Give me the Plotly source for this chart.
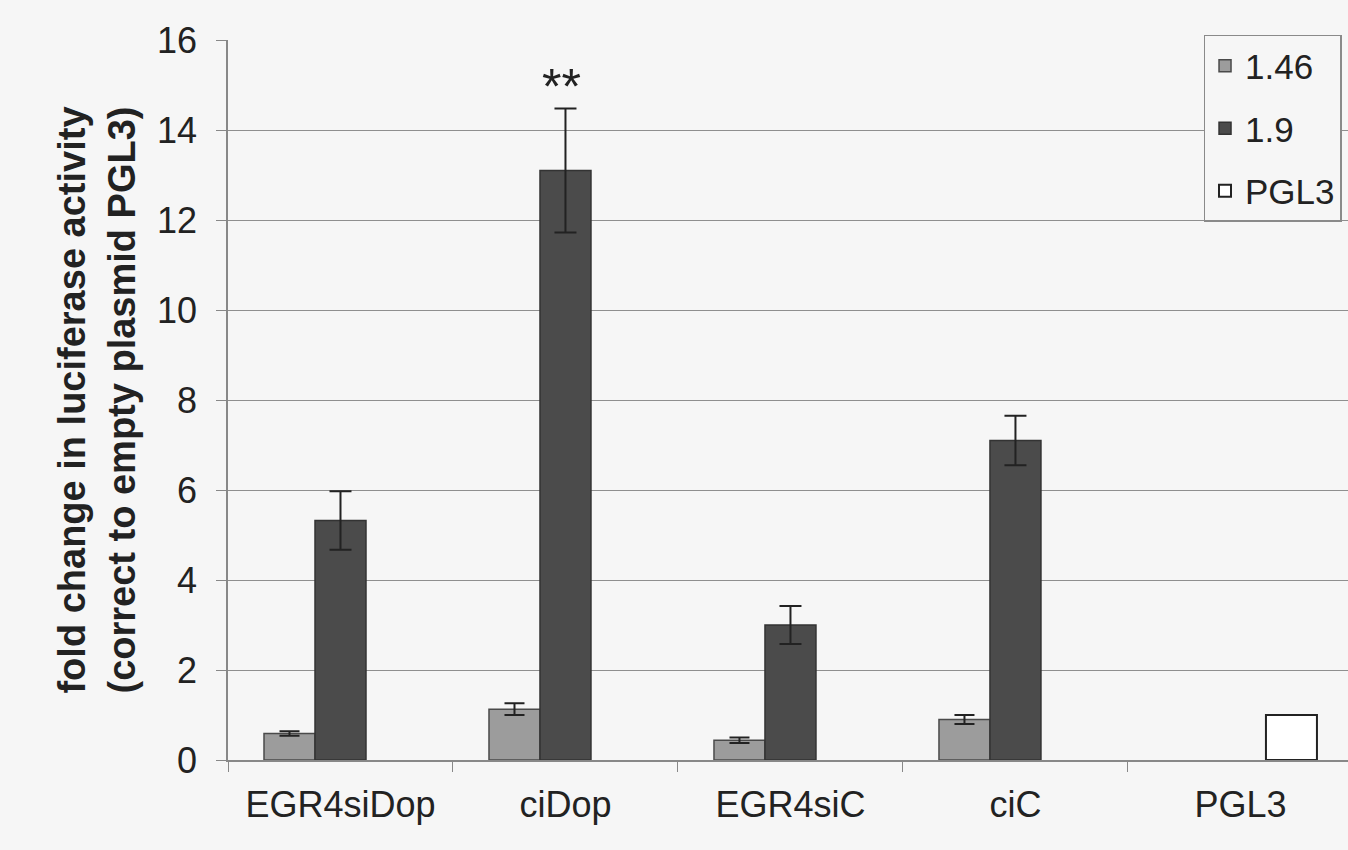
import plotly.graph_objects as go

categories = ["EGR4siDop", "ciDop", "EGR4siC", "ciC", "PGL3"]
series_names = ["1.46", "1.9", "PGL3"]
values_146 = [0.59, 1.13, 0.44, 0.90, None]
errors_146 = [0.05, 0.13, 0.06, 0.10, 0]
values_19 = [5.32, 13.1, 3.0, 7.1, None]
errors_19 = [0.65, 1.38, 0.42, 0.55, 0]
values_pgl3 = [None, None, None, None, 1.0]
y_ticks = [0, 2, 4, 6, 8, 10, 12, 14, 16]
signif_label = "**"
signif_category = "ciDop"
signif_y = 14.95

FONT = "Liberation Sans, Arial, sans-serif"
BG = "#f6f6f6"

fig = go.Figure()
fig.add_trace(go.Bar(
    name=series_names[0], x=categories, y=values_146, legendgroup="a",
    marker=dict(color="#9c9c9c", line=dict(color="#4a4a4a", width=1.5)),
    error_y=dict(type="data", array=errors_146, visible=True, color="#222222",
                 thickness=2, width=10),
))
fig.add_trace(go.Bar(
    name=series_names[1], x=categories, y=values_19, legendgroup="b",
    marker=dict(color="#4b4b4b", line=dict(color="#333333", width=1.5)),
    error_y=dict(type="data", array=errors_19, visible=True, color="#222222",
                 thickness=2, width=11),
))
fig.add_trace(go.Bar(
    name=series_names[2], x=categories, y=values_pgl3, legendgroup="c",
    marker=dict(color="#ffffff", line=dict(color="#222222", width=2)),
))

fig.add_annotation(x=signif_category, y=signif_y, text=signif_label, showarrow=False,
                   font=dict(family=FONT, size=50, color="#222222"),
                   xanchor="center", yanchor="middle", xshift=-4)

fig.update_layout(
    width=1348, height=850,
    margin=dict(l=228, r=0, t=40, b=90),
    paper_bgcolor=BG, plot_bgcolor=BG,
    barmode="group", bargap=0.32, bargroupgap=0,
    font=dict(family=FONT, size=36, color="#222222"),
    showlegend=True,
    legend=dict(x=0.871, y=1.007, xanchor="left", yanchor="top",
                bgcolor=BG, bordercolor="#8a8a8a", borderwidth=1.5,
                font=dict(family=FONT, size=35, color="#222222"),
                tracegroupgap=14, traceorder="grouped"),
    xaxis=dict(
        type="category", range=[-0.5, 4.478],
        showgrid=False, tickson="boundaries", ticks="outside", ticklen=10,
        tickcolor="#888888", showline=True, linecolor="#888888", linewidth=1.5,
        tickfont=dict(family=FONT, size=36, color="#222222"),
        ticklabelstandoff=12,
    ),
    yaxis=dict(
        range=[0, 16], tickvals=y_ticks, showgrid=True, gridcolor="#8f8f8f", gridwidth=1,
        showline=True, linecolor="#888888", linewidth=1.5,
        ticks="outside", ticklen=10, tickcolor="#888888",
        tickfont=dict(family=FONT, size=36, color="#222222"),
        ticklabelstandoff=12,
        zeroline=False,
        title=dict(text="<b>fold change in luciferase activity<br>(correct to empty plasmid PGL3)</b>",
                   font=dict(family=FONT, size=38, color="#222222"), standoff=10),
    ),
)

fig.write_html("out.html", config={"displayModeBar": False},
               post_script="document.body.style.margin='0';document.body.style.padding='0';"
                           "document.body.style.overflow='hidden';")
